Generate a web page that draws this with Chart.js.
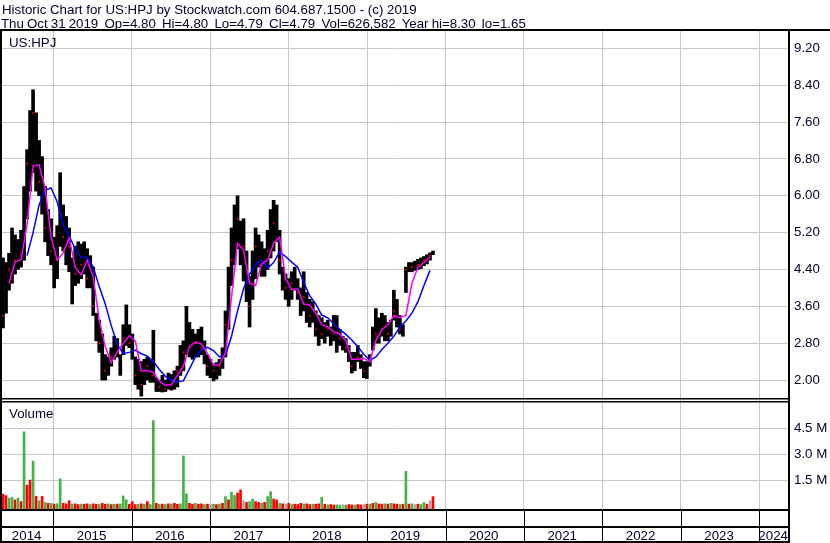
<!DOCTYPE html>
<html>
<head>
<meta charset="utf-8">
<script src="https://cdn.jsdelivr.net/npm/chart.js@4.4.0/dist/chart.umd.min.js"></script>
<style>
  html, body { margin: 0; padding: 0; background: #fff; }
  #wrap { position: relative; width: 830px; height: 543px; overflow: hidden; }
  #chart { position: absolute; left: 0; top: 0; }
  .title {
    position: absolute; left: 2px; top: 3px;
    font: 13.3px "Liberation Sans", Arial, sans-serif;
    line-height: 14px; color: #000030; white-space: pre;
  }
  .title .l2 { margin-left: -1px; word-spacing: -0.6px; }
</style>
</head>
<body>
<div id="wrap">
  <canvas id="chart" width="830" height="543"></canvas>
  <div class="title"><div>Historic Chart for US:HPJ by Stockwatch.com 604.687.1500 - (c) 2019</div><div class="l2">Thu Oct 31 2019  Op=4.80  Hi=4.80  Lo=4.79  Cl=4.79  Vol=626,582  Year hi=8.30  lo=1.65</div></div>
</div>
<script>
// two-week bars, May 2014 .. Oct 2019 (decimal years)
const firstDate = 2014.359;
const stepYears = 14 / 365.25;

const priceLows = [
  3.13, 3.45, 3.95, 4.1, 4.3, 4.4, 4.45, 4.6, 5.5, 6.1,
  6.5, 6.1, 6.0, 5.6, 5.0, 4.7, 4.5, 4.0, 4.2, 4.9,
  4.8, 4.5, 4.35, 3.65, 4.05, 4.1, 4.2, 4.3, 4.0, 4.0,
  3.4, 2.85, 2.6, 2.0, 2.0, 2.1, 2.3, 2.45, 2.5, 2.1,
  2.55, 2.75, 2.7, 2.45, 1.9, 1.8, 1.65, 1.9, 2.0, 1.95,
  1.95, 1.75, 1.75, 1.74, 1.75, 1.8, 1.78, 1.8, 1.85, 2.1,
  2.2, 2.55, 2.5, 2.45, 2.5, 2.5, 2.55, 2.35, 2.1, 2.05,
  1.98, 2.02, 2.1, 2.25, 2.5, 3.1, 4.05, 4.5, 4.85, 4.5,
  4.15, 3.7, 3.15, 3.75, 4.2, 4.45, 4.25, 4.25, 4.4, 4.65,
  4.8, 5.0, 4.3, 3.95, 3.75, 3.6, 3.75, 3.95, 3.75, 3.4,
  3.5, 3.25, 3.15, 3.25, 2.95, 2.75, 2.9, 2.8, 2.95, 2.75,
  2.85, 2.6, 2.75, 2.65, 2.6, 2.4, 2.15, 2.2, 2.4, 2.25,
  2.05, 2.03, 2.3, 2.65, 2.8, 2.8, 2.95, 2.85, 2.85, 2.95,
  3.3, 3.15, 3.0, 2.95, 3.9, 4.35, 4.35, 4.38, 4.4, 4.42,
  4.48, 4.52, 4.6, 4.72
];
const priceHighs = [
  4.65, 4.55, 4.75, 5.3, 5.15, 5.05, 5.25, 6.2, 7.0, 7.85,
  8.3, 7.8, 7.2, 6.85, 6.2, 5.7, 5.5, 5.1, 5.35, 6.5,
  5.8, 5.55, 5.3, 4.65, 4.9, 5.0, 4.95, 5.0, 4.85, 4.7,
  4.45, 3.45, 3.3, 3.0, 2.55, 2.5, 2.7, 2.95, 2.9, 2.55,
  3.2, 3.63, 3.2, 3.0, 2.5, 2.45, 2.4, 2.45, 2.5, 2.45,
  3.08, 2.05, 2.0, 2.1, 2.0, 2.15, 2.12, 2.2, 2.3, 2.75,
  2.85, 3.6, 3.25, 3.1, 3.0, 3.1, 3.15, 2.85, 2.55, 2.45,
  2.35, 2.38, 2.45, 2.7, 3.5, 4.45, 5.3, 5.8, 6.0, 5.45,
  5.5, 4.8, 4.25, 4.8, 5.3, 5.15, 5.0, 4.85, 5.25, 5.7,
  5.9, 5.8, 5.25, 4.45, 4.3, 4.2, 4.35, 4.45, 4.2, 4.0,
  4.35, 3.9, 3.75, 3.7, 3.5, 3.4, 3.35, 3.25, 3.3, 3.15,
  3.4, 3.4, 3.1, 2.95, 2.9, 2.75, 2.6, 2.6, 2.75, 2.55,
  2.4, 2.4, 2.55, 3.15, 3.55, 3.35, 3.45, 3.4, 3.25, 3.3,
  3.95, 3.75, 3.4, 3.2, 4.45, 4.55, 4.55, 4.58, 4.62, 4.65,
  4.68, 4.72, 4.76, 4.8
];

// closes, moving averages: one value every second bar
const closes = [
  3.4, 4.4, 4.6, 4.7, 6.7, 7.8, 6.3, 5.3, 4.8, 4.6,
  5.1, 4.9, 4.3, 4.5, 4.2, 3.6, 2.8, 2.2, 2.5, 2.6,
  2.9, 2.8, 2.1, 1.9, 2.3, 2.1, 1.85, 1.8, 1.9, 2.2,
  2.6, 2.7, 2.8, 2.7, 2.3, 2.2, 2.3, 3.2, 4.6, 5.5,
  4.9, 3.6, 4.9, 4.5, 4.8, 5.4, 4.6, 4.0, 4.1, 3.9,
  3.8, 3.4, 3.1, 3.0, 3.1, 3.0, 2.9, 2.7, 2.3, 2.5,
  2.2, 2.45, 3.0, 3.1, 3.0, 3.5, 3.1, 4.4, 4.45, 4.5,
  4.6, 4.7
];
const maFast = [
  null, 4.1, 4.56, 4.62, 5.37, 6.65, 6.67, 6.17, 5.1, 4.6,
  4.76, 5.08, 4.45, 4.28, 4.6, 4.24, 3.3, 2.72, 2.38, 2.61,
  2.8, 2.96, 2.85, 2.2, 2.2, 2.17, 1.98, 1.88, 1.9, 2.1,
  2.3, 2.72, 2.83, 2.78, 2.58, 2.32, 2.33, 2.6, 3.8, 4.97,
  4.82, 4.1, 4.05, 4.52, 4.6, 4.97, 5.1, 4.2, 3.96, 3.98,
  3.65, 3.63, 3.45, 3.2, 3.15, 3.05, 3.0, 2.85, 2.45, 2.45,
  2.47, 2.4, 2.85, 3.09, 3.2, 3.4, 3.35, 3.4, 4.1, 4.45,
  4.55, 4.67
];
const maSlow = [
  null, null, null, null, 4.7, 5.2, 5.8, 6.12, 6.17, 5.87,
  5.37, 5.13, 4.85, 4.66, 4.66, 4.45, 4.03, 3.65, 3.18, 2.77,
  2.57, 2.6, 2.65, 2.57, 2.52, 2.4, 2.23, 2.08, 1.99, 1.96,
  1.98, 2.24, 2.5, 2.66, 2.71, 2.64, 2.5, 2.54, 2.95, 3.5,
  3.98, 4.3, 4.5, 4.6, 4.43, 4.55, 4.78, 4.68, 4.56, 4.45,
  4.12, 3.83, 3.65, 3.41, 3.35, 3.22, 3.1, 2.99, 2.87, 2.72,
  2.56, 2.43, 2.5, 2.66, 2.8, 2.95, 3.15, 3.28, 3.45, 3.7,
  4.05, 4.38
];

// volume in millions of shares, r = down, g = up, n = unchanged
const volumeM = [
  0.68, 0.6, 0.45, 0.5, 0.35, 0.45, 0.25, 4.3, 1.2, 1.5,
  2.6, 0.55, 0.3, 0.55, 0.2, 0.15, 0.15, 0.1, 0.12, 1.57,
  0.15, 0.12, 0.3, 0.1, 0.12, 0.08, 0.1, 0.1, 0.12, 0.08,
  0.12, 0.1, 0.08, 0.15, 0.1, 0.12, 0.08, 0.1, 0.1, 0.12,
  0.58, 0.35, 0.1, 0.25, 0.08, 0.1, 0.12, 0.1, 0.25, 0.08,
  4.95, 0.15, 0.1, 0.1, 0.08, 0.12, 0.1, 0.15, 0.1, 0.12,
  2.9, 0.7, 0.15, 0.1, 0.15, 0.1, 0.12, 0.08, 0.1, 0.08,
  0.1, 0.08, 0.1, 0.15, 0.54, 0.35, 0.8, 0.6, 0.75, 0.93,
  0.3, 0.2, 0.25, 0.4, 0.25, 0.2, 0.15, 0.2, 0.54, 0.83,
  0.4, 0.35, 0.15, 0.12, 0.1, 0.15, 0.08, 0.1, 0.08, 0.15,
  0.1, 0.12, 0.08, 0.1, 0.1, 0.12, 0.5, 0.1, 0.06, 0.08,
  0.05, 0.06, 0.05, 0.06, 0.05, 0.08, 0.06, 0.05, 0.08, 0.06,
  0.08, 0.1, 0.1, 0.15, 0.2, 0.12, 0.1, 0.12, 0.1, 0.15,
  0.12, 0.1, 0.08, 0.1, 2.0, 0.1, 0.12, 0.08, 0.1, 0.08,
  0.2, 0.1, 0.3, 0.54
];
const volumeDirection = (
  'rrggrgrgrr grgrgrgrgg rrrgrrgrrg rrgrrgrgrg ggrrrgrgrg ' +
  'grgrgrgrrg ggrrgrrgrn grgrgrggrr nrggrrgrgg rrgrnrgrrr ' +
  'grrgrrgrgr rggngrrgrr nrgrgrrgrg rrgrgrgnrg grnr'
).replace(/ /g, '').split('');

const priceTicks = [2.0, 2.4, 2.8, 3.2, 3.6, 4.0, 4.4, 4.8, 5.2, 5.6, 6.0, 6.4, 6.8, 7.2, 7.6, 8.0, 8.4, 8.8, 9.2];
const volumeTicks = [1.5, 3.0, 4.5];
const yearLabels = ['2014', '2015', '2016', '2017', '2018', '2019', '2020', '2021', '2022', '2023', '2024'];

const xMin = 2014.346;
const xMax = 2024.379;
const priceMin = 1.566, priceMax = 9.576;
const volMin = -0.238, volMax = 6.145;

const ink = '#000030';
const gridColor = '#c8c8c8';
const labelFont = { family: "'Liberation Sans', Arial, sans-serif", size: 13.3 };
const dirColors = { r: '#ff0000', g: '#44b244', n: '#a8a8a8' };

const barDates = priceLows.map((_, i) => firstDate + i * stepYears);
const priceBars = barDates.map((d, i) => ({ x: d, y: [priceLows[i], priceHighs[i]] }));
const volumeBars = barDates.map((d, i) => ({ x: d, y: volumeM[i] }));
const closeDots = closes.map((v, k) => ({ x: barDates[k * 2], y: v }));
const fastLine = maFast.map((v, k) => ({ x: barDates[k * 2], y: v }));
const slowLine = maSlow.map((v, k) => ({ x: barDates[k * 2], y: v }));

// frame rules, year rows and panel captions
const framePlugin = {
    id: 'frames',
    afterDraw(chart) {
        const ctx = chart.ctx;
        const area = chart.chartArea;
        const xs = chart.scales.x;
        ctx.save();
        ctx.fillStyle = '#000';
        ctx.fillRect(0, 29, 830, 2);
        ctx.fillRect(0, 29, 2, 514);
        ctx.fillRect(788, 29, 2, 514);
        ctx.fillRect(0, 398, 790, 1.5);
        ctx.fillRect(0, 401, 790, 1.5);
        ctx.fillRect(0, 509, 790, 2);
        ctx.fillRect(0, 526, 790, 2);
        ctx.fillRect(0, 541, 790, 2);

        for (let k = 1; k < yearLabels.length; k++) {
            const px = Math.round(xs.getPixelForValue(+yearLabels[k]));
            ctx.fillRect(px, 511, 1, 30);
        }

        ctx.fillStyle = ink;
        ctx.font = "13.3px 'Liberation Sans', Arial, sans-serif";
        ctx.textBaseline = 'alphabetic';
        ctx.textAlign = 'center';
        yearLabels.forEach((lab) => {
            const y0 = +lab;
            const l = Math.max(area.left, xs.getPixelForValue(y0));
            const r = Math.min(area.right, xs.getPixelForValue(y0 + 1));
            ctx.fillText(lab, (l + r) / 2 - 1, 539.5);
        });

        ctx.textAlign = 'left';
        ctx.fillText('US:HPJ', 9, 46.5);
        ctx.fillText('Volume', 9, 418);
        ctx.restore();
    }
};

new Chart(document.getElementById('chart'), {
    type: 'bar',
    data: {
        datasets: [
            {
                type: 'line',
                label: 'MA fast',
                data: fastLine,
                yAxisID: 'y',
                borderColor: '#ff00ff',
                borderWidth: 1.5,
                pointRadius: 0,
                tension: 0,
                order: 1
            },
            {
                type: 'line',
                label: 'MA slow',
                data: slowLine,
                yAxisID: 'y',
                borderColor: '#0000ff',
                borderWidth: 1.5,
                pointRadius: 0,
                tension: 0,
                order: 2
            },
            {
                type: 'line',
                label: 'Close',
                data: closeDots,
                yAxisID: 'y',
                showLine: false,
                pointStyle: 'rect',
                pointRadius: 1.2,
                pointBorderWidth: 0,
                pointBackgroundColor: '#ff0000',
                order: 2.5
            },
            {
                type: 'bar',
                label: 'Price',
                data: priceBars,
                yAxisID: 'y',
                backgroundColor: '#000000',
                barThickness: 3,
                grouped: false,
                order: 3
            },
            {
                type: 'bar',
                label: 'Volume',
                data: volumeBars,
                yAxisID: 'yv',
                backgroundColor: volumeDirection.map(c => dirColors[c]),
                barThickness: 2,
                grouped: false,
                base: volMin,
                order: 4
            }
        ]
    },
    options: {
        responsive: false,
        devicePixelRatio: 1,
        animation: false,
        layout: { autoPadding: false, padding: { left: 2, top: 31, right: 0, bottom: 0 } },
        plugins: {
            legend: { display: false },
            tooltip: { enabled: false }
        },
        scales: {
            x: {
                type: 'linear',
                position: 'bottom',
                min: xMin,
                max: xMax,
                offset: false,
                afterFit: (s) => { s.height = 33; },
                afterBuildTicks: (s) => {
                    s.ticks = yearLabels.slice(1).map(v => ({ value: +v }));
                },
                ticks: { display: false },
                grid: { color: gridColor, drawTicks: false, offset: false },
                border: { display: false }
            },
            y: {
                type: 'linear',
                position: 'right',
                stack: 'panes',
                stackWeight: 369,
                min: priceMin,
                max: priceMax,
                afterFit: (s) => { s.width = 41; },
                afterBuildTicks: (s) => {
                    s.ticks = priceTicks.map(v => ({ value: v }));
                },
                ticks: {
                    color: ink,
                    font: labelFont,
                    padding: 5,
                    callback: (v) => v.toFixed(2)
                },
                grid: { color: gridColor, drawTicks: false },
                border: { display: false }
            },
            yv: {
                type: 'linear',
                position: 'right',
                stack: 'panes',
                stackWeight: 110,
                min: volMin,
                max: volMax,
                afterFit: (s) => { s.width = 41; },
                afterBuildTicks: (s) => {
                    s.ticks = volumeTicks.map(v => ({ value: v }));
                },
                ticks: {
                    color: ink,
                    font: labelFont,
                    padding: 5,
                    callback: (v) => v.toFixed(1) + ' M'
                },
                grid: { color: gridColor, drawTicks: false },
                border: { display: false }
            }
        }
    },
    plugins: [framePlugin]
});
</script>
</body>
</html>
